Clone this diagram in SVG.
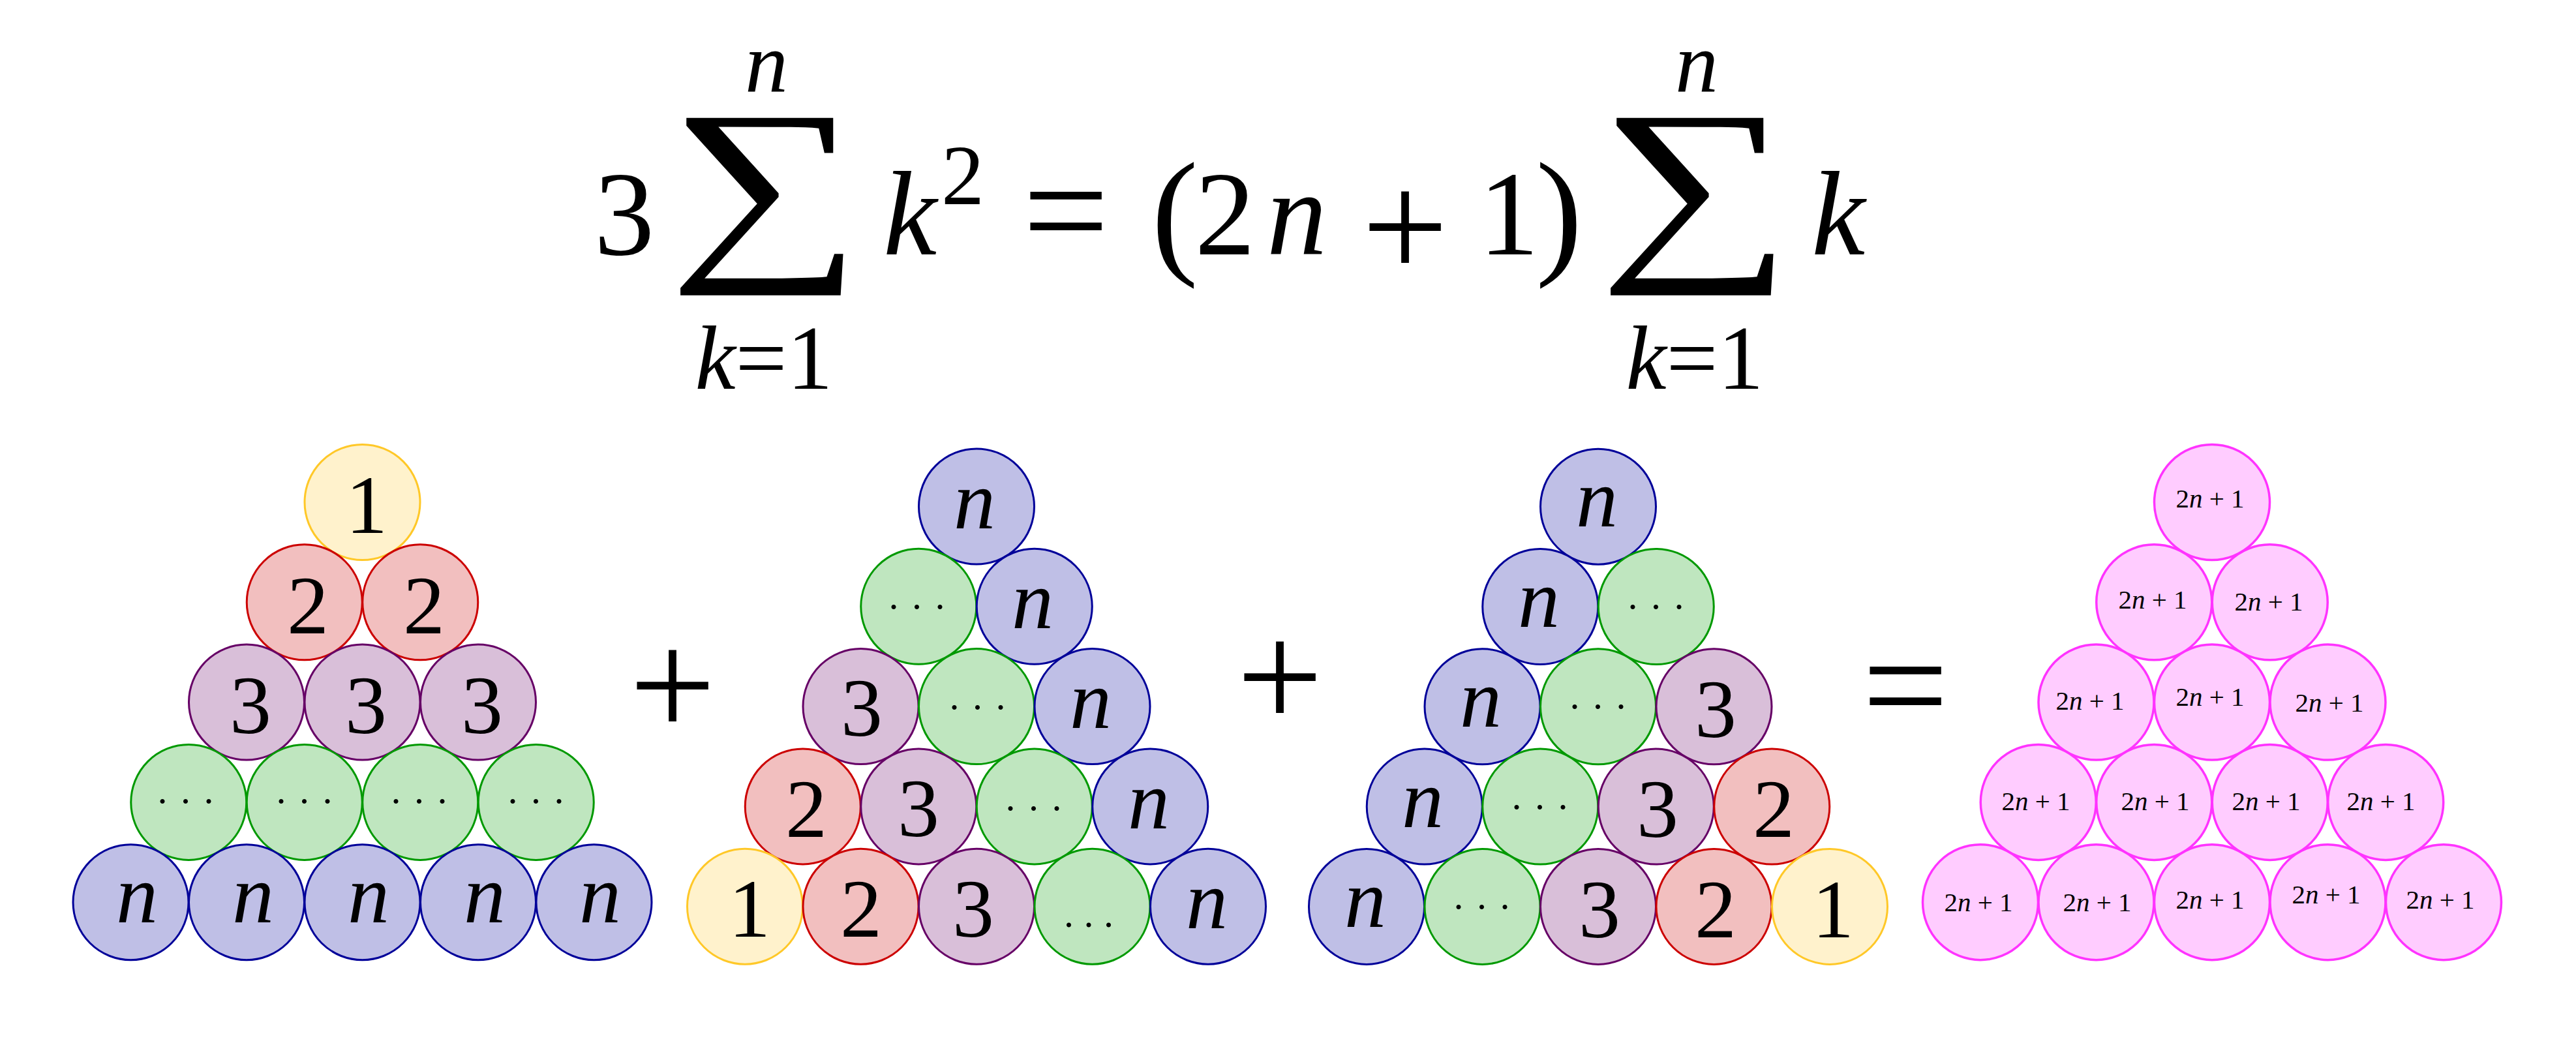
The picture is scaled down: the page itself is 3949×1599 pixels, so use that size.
<svg xmlns="http://www.w3.org/2000/svg" width="3949" height="1599" viewBox="0 0 3949 1599">
<style>
text{font-family:"Liberation Serif","DejaVu Serif",serif;fill:#000}
.it{font-style:italic}
.eq{font-size:185px}
.lim{font-size:132px}
.low{font-size:140px}
.sig{font-size:300px;text-anchor:middle}
.op{font-size:235px;text-anchor:middle}
circle{stroke-width:3}
.y circle{fill:#FFF2CC;stroke:#FFC828}
.r circle{fill:#F2BFBF;stroke:#CC0000}
.p circle{fill:#D9BFD9;stroke:#660066}
.g circle{fill:#BFE6BF;stroke:#009900}
.b circle{fill:#BFBFE6;stroke:#000099}
.m circle{fill:#FFCCFF;stroke:#FF33FF;stroke-width:3.5}
.num{font-size:128px;text-anchor:middle}
.nv{font-size:128px;text-anchor:middle;font-style:italic}
.dt{font-size:60px;letter-spacing:15.5px}
.sm{font-size:41px;text-anchor:middle}
</style>
<rect width="3949" height="1599" fill="#fff"/>

<g id="equation">
<text class="eq" x="957" y="390" text-anchor="middle">3</text>
<text class="sig" transform="translate(1173,386) scale(1.39,1.045)">∑</text>
<text class="lim it" x="1175" y="141" text-anchor="middle">n</text>
<text class="low" x="1171" y="596" text-anchor="middle"><tspan font-style="italic">k</tspan>=1</text>
<text class="eq it" x="1395" y="390" text-anchor="middle">k</text>
<text class="lim" x="1476" y="313" text-anchor="middle">2</text>
<text class="op" x="1634" y="402">=</text>
<text font-size="215" x="1801" y="397" text-anchor="middle">(</text>
<text class="eq" x="1878" y="390" text-anchor="middle">2</text>
<text class="eq it" x="1988" y="390" text-anchor="middle">n</text>
<text class="op" x="2154" y="426">+</text>
<text class="eq" x="2313" y="390" text-anchor="middle">1</text>
<text font-size="215" x="2390" y="397" text-anchor="middle">)</text>
<text class="sig" transform="translate(2599,386) scale(1.39,1.045)">∑</text>
<text class="lim it" x="2601" y="141" text-anchor="middle">n</text>
<text class="low" x="2598" y="596" text-anchor="middle"><tspan font-style="italic">k</tspan>=1</text>
<text class="eq it" x="2818" y="390" text-anchor="middle">k</text>
</g>

<g id="triangle1">
<g id="t1-1-1" class="y"><circle cx="555.5" cy="770" r="88.5"/><text class="num" x="562" y="817">1</text></g>
<g id="t1-2-1" class="r"><circle cx="466.75" cy="923.3" r="88.5"/><text class="num" x="472" y="971">2</text></g>
<g id="t1-2-2" class="r"><circle cx="644.25" cy="923.3" r="88.5"/><text class="num" x="650" y="971">2</text></g>
<g id="t1-3-1" class="p"><circle cx="378" cy="1076.6" r="88.5"/><text class="num" x="384" y="1124">3</text></g>
<g id="t1-3-2" class="p"><circle cx="555.5" cy="1076.6" r="88.5"/><text class="num" x="561" y="1124">3</text></g>
<g id="t1-3-3" class="p"><circle cx="733" cy="1076.6" r="88.5"/><text class="num" x="739" y="1124">3</text></g>
<g id="t1-4-1" class="g"><circle cx="289.25" cy="1229.9" r="88.5"/><text class="dt" x="239" y="1248">···</text></g>
<g id="t1-4-2" class="g"><circle cx="466.75" cy="1229.9" r="88.5"/><text class="dt" x="421" y="1248">···</text></g>
<g id="t1-4-3" class="g"><circle cx="644.25" cy="1229.9" r="88.5"/><text class="dt" x="597" y="1248">···</text></g>
<g id="t1-4-4" class="g"><circle cx="821.75" cy="1229.9" r="88.5"/><text class="dt" x="776" y="1248">···</text></g>
<g id="t1-5-1" class="b"><circle cx="200.5" cy="1383.2" r="88.5"/><text class="nv" x="210" y="1414">n</text></g>
<g id="t1-5-2" class="b"><circle cx="378" cy="1383.2" r="88.5"/><text class="nv" x="388" y="1414">n</text></g>
<g id="t1-5-3" class="b"><circle cx="555.5" cy="1383.2" r="88.5"/><text class="nv" x="565" y="1414">n</text></g>
<g id="t1-5-4" class="b"><circle cx="733" cy="1383.2" r="88.5"/><text class="nv" x="743" y="1414">n</text></g>
<g id="t1-5-5" class="b"><circle cx="910.5" cy="1383.2" r="88.5"/><text class="nv" x="920" y="1414">n</text></g>
</g>

<g id="plus1"><text class="op" x="1031" y="1129">+</text></g>

<g id="triangle2">
<g id="t2-1-1" class="b"><circle cx="1497" cy="776.5" r="88.5"/><text class="nv" x="1494" y="810">n</text></g>
<g id="t2-2-1" class="g"><circle cx="1408.25" cy="929.8" r="88.5"/><text class="dt" x="1360" y="950">···</text></g>
<g id="t2-2-2" class="b"><circle cx="1585.75" cy="929.8" r="88.5"/><text class="nv" x="1583" y="963">n</text></g>
<g id="t2-3-1" class="p"><circle cx="1319.5" cy="1083.1" r="88.5"/><text class="num" x="1321" y="1128">3</text></g>
<g id="t2-3-2" class="g"><circle cx="1497" cy="1083.1" r="88.5"/><text class="dt" x="1453" y="1104">···</text></g>
<g id="t2-3-3" class="b"><circle cx="1674.5" cy="1083.1" r="88.5"/><text class="nv" x="1672" y="1116">n</text></g>
<g id="t2-4-1" class="r"><circle cx="1230.75" cy="1236.4" r="88.5"/><text class="num" x="1236" y="1283">2</text></g>
<g id="t2-4-2" class="p"><circle cx="1408.25" cy="1236.4" r="88.5"/><text class="num" x="1408" y="1282">3</text></g>
<g id="t2-4-3" class="g"><circle cx="1585.75" cy="1236.4" r="88.5"/><text class="dt" x="1539" y="1259">···</text></g>
<g id="t2-4-4" class="b"><circle cx="1763.25" cy="1236.4" r="88.5"/><text class="nv" x="1761" y="1270">n</text></g>
<g id="t2-5-1" class="y"><circle cx="1142" cy="1389.7" r="88.5"/><text class="num" x="1149" y="1436">1</text></g>
<g id="t2-5-2" class="r"><circle cx="1319.5" cy="1389.7" r="88.5"/><text class="num" x="1320" y="1436">2</text></g>
<g id="t2-5-3" class="p"><circle cx="1497" cy="1389.7" r="88.5"/><text class="num" x="1492" y="1436">3</text></g>
<g id="t2-5-4" class="g"><circle cx="1674.5" cy="1389.7" r="88.5"/><text class="dt" x="1631" y="1421">...</text></g>
<g id="t2-5-5" class="b"><circle cx="1852" cy="1389.7" r="88.5"/><text class="nv" x="1850" y="1423">n</text></g>
</g>

<g id="plus2"><text class="op" x="1962" y="1116">+</text></g>

<g id="triangle3">
<g id="t3-1-1" class="b"><circle cx="2450" cy="776.7" r="88.5"/><text class="nv" x="2448" y="807">n</text></g>
<g id="t3-2-1" class="b"><circle cx="2361.25" cy="930" r="88.5"/><text class="nv" x="2359" y="961">n</text></g>
<g id="t3-2-2" class="g"><circle cx="2538.75" cy="930" r="88.5"/><text class="dt" x="2493" y="950">···</text></g>
<g id="t3-3-1" class="b"><circle cx="2272.5" cy="1083.3" r="88.5"/><text class="nv" x="2270" y="1114">n</text></g>
<g id="t3-3-2" class="g"><circle cx="2450" cy="1083.3" r="88.5"/><text class="dt" x="2404" y="1103">···</text></g>
<g id="t3-3-3" class="p"><circle cx="2627.5" cy="1083.3" r="88.5"/><text class="num" x="2630" y="1130">3</text></g>
<g id="t3-4-1" class="b"><circle cx="2183.75" cy="1236.6" r="88.5"/><text class="nv" x="2181" y="1268">n</text></g>
<g id="t3-4-2" class="g"><circle cx="2361.25" cy="1236.6" r="88.5"/><text class="dt" x="2315" y="1257">···</text></g>
<g id="t3-4-3" class="p"><circle cx="2538.75" cy="1236.6" r="88.5"/><text class="num" x="2541" y="1283">3</text></g>
<g id="t3-4-4" class="r"><circle cx="2716.25" cy="1236.6" r="88.5"/><text class="num" x="2719" y="1283">2</text></g>
<g id="t3-5-1" class="b"><circle cx="2095" cy="1389.9" r="88.5"/><text class="nv" x="2093" y="1421">n</text></g>
<g id="t3-5-2" class="g"><circle cx="2272.5" cy="1389.9" r="88.5"/><text class="dt" x="2226" y="1410">···</text></g>
<g id="t3-5-3" class="p"><circle cx="2450" cy="1389.9" r="88.5"/><text class="num" x="2452" y="1437">3</text></g>
<g id="t3-5-4" class="r"><circle cx="2627.5" cy="1389.9" r="88.5"/><text class="num" x="2630" y="1437">2</text></g>
<g id="t3-5-5" class="y"><circle cx="2805" cy="1389.9" r="88.5"/><text class="num" x="2810" y="1437">1</text></g>
</g>

<g id="equals"><text class="op" x="2921" y="1130">=</text></g>

<g id="triangle4">
<g id="t4-1-1" class="m"><circle cx="3391" cy="770" r="88.5"/><text class="sm" x="3388" y="778">2<tspan class="it">n</tspan> + 1</text></g>
<g id="t4-2-1" class="m"><circle cx="3302.25" cy="923.3" r="88.5"/><text class="sm" x="3300" y="933">2<tspan class="it">n</tspan> + 1</text></g>
<g id="t4-2-2" class="m"><circle cx="3479.75" cy="923.3" r="88.5"/><text class="sm" x="3478" y="936">2<tspan class="it">n</tspan> + 1</text></g>
<g id="t4-3-1" class="m"><circle cx="3213.5" cy="1076.6" r="88.5"/><text class="sm" x="3204" y="1088">2<tspan class="it">n</tspan> + 1</text></g>
<g id="t4-3-2" class="m"><circle cx="3391" cy="1076.6" r="88.5"/><text class="sm" x="3388" y="1082">2<tspan class="it">n</tspan> + 1</text></g>
<g id="t4-3-3" class="m"><circle cx="3568.5" cy="1076.6" r="88.5"/><text class="sm" x="3571" y="1091">2<tspan class="it">n</tspan> + 1</text></g>
<g id="t4-4-1" class="m"><circle cx="3124.75" cy="1229.9" r="88.5"/><text class="sm" x="3121" y="1242">2<tspan class="it">n</tspan> + 1</text></g>
<g id="t4-4-2" class="m"><circle cx="3302.25" cy="1229.9" r="88.5"/><text class="sm" x="3304" y="1242">2<tspan class="it">n</tspan> + 1</text></g>
<g id="t4-4-3" class="m"><circle cx="3479.75" cy="1229.9" r="88.5"/><text class="sm" x="3474" y="1242">2<tspan class="it">n</tspan> + 1</text></g>
<g id="t4-4-4" class="m"><circle cx="3657.25" cy="1229.9" r="88.5"/><text class="sm" x="3650" y="1242">2<tspan class="it">n</tspan> + 1</text></g>
<g id="t4-5-1" class="m"><circle cx="3036" cy="1383.2" r="88.5"/><text class="sm" x="3033" y="1397">2<tspan class="it">n</tspan> + 1</text></g>
<g id="t4-5-2" class="m"><circle cx="3213.5" cy="1383.2" r="88.5"/><text class="sm" x="3215" y="1397">2<tspan class="it">n</tspan> + 1</text></g>
<g id="t4-5-3" class="m"><circle cx="3391" cy="1383.2" r="88.5"/><text class="sm" x="3388" y="1393">2<tspan class="it">n</tspan> + 1</text></g>
<g id="t4-5-4" class="m"><circle cx="3568.5" cy="1383.2" r="88.5"/><text class="sm" x="3566" y="1385">2<tspan class="it">n</tspan> + 1</text></g>
<g id="t4-5-5" class="m"><circle cx="3746" cy="1383.2" r="88.5"/><text class="sm" x="3741" y="1393">2<tspan class="it">n</tspan> + 1</text></g>
</g>
</svg>
